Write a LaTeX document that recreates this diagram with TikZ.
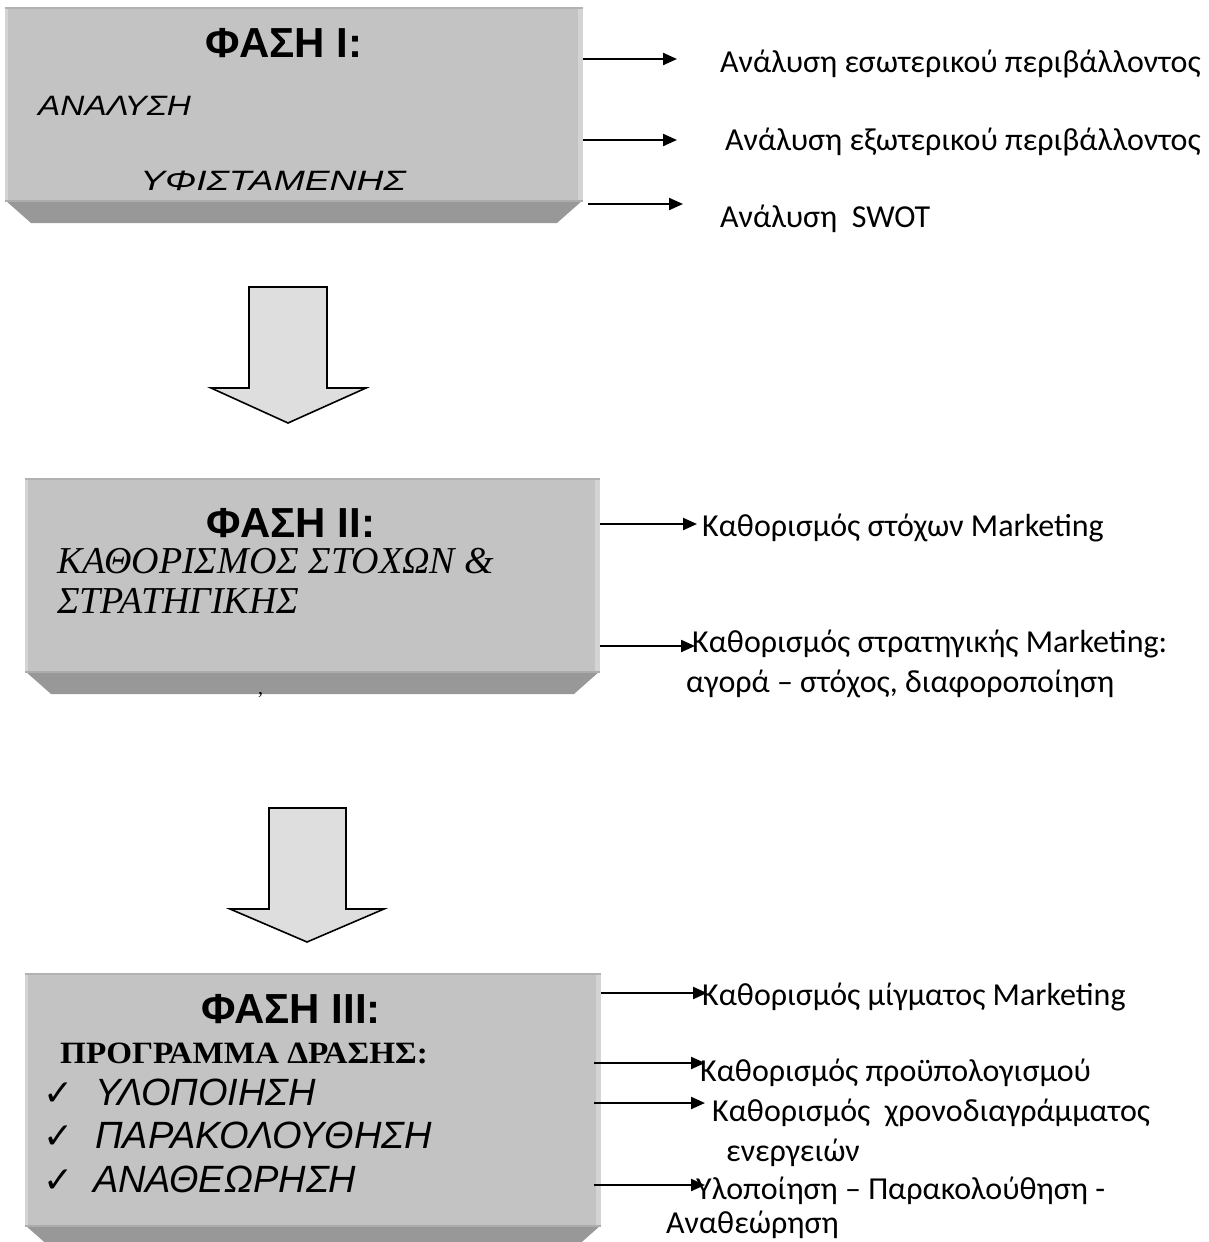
\documentclass[tikz,border=0pt]{standalone}
\usepackage{fontspec}
\setmainfont{Liberation Serif}
\newfontfamily\arialf{Liberation Sans}
\newfontfamily\calf{Carlito}
\newfontfamily\dejaf{DejaVu Sans}
\usetikzlibrary{arrows.meta}
\newcommand\setfs[1]{\fontsize{#1}{#1}\selectfont}
\definecolor{facegray}{RGB}{195,195,195}
\definecolor{edgelight}{RGB}{212,212,212}
\definecolor{topline}{RGB}{178,178,178}
\definecolor{bevelgray}{RGB}{152,152,152}
\definecolor{bevelline}{RGB}{172,172,172}
\definecolor{arrowfill}{RGB}{222,222,222}
\newcommand\bevbox[5]{% name, x1, ytop, x2, ybottom of face
  \fill[facegray] (#2,#3) rectangle (#4,#5);
  \fill[edgelight] (#2,#3) rectangle ({#2+3},#5);
  \fill[edgelight] ({#4-5},#3) rectangle (#4,#5);
  \fill[topline] (#2,#3) rectangle (#4,{#3+2});
  \fill[bevelgray] (#2,#5) -- (#4,#5) -- ({#4-26},{#5+23}) -- ({#2+26},{#5+23}) -- cycle;
  \fill[bevelline] (#2,#5) rectangle (#4,{#5+2});
  \coordinate (#1) at (#2,#3);
}
\tikzset{
  side/.style={anchor=base west, inner sep=0pt, font=\calf\setfs{32}},
  title/.style={anchor=base, inner sep=0pt, font=\arialf\bfseries\setfs{42}},
  sansit/.style={anchor=base west, inner sep=0pt, font=\arialf\itshape\setfs{38}},
  chk/.style={anchor=base west, inner sep=0pt, font=\dejaf\setfs{36}},
  conn/.style={line width=2.2pt, -{Triangle[length=14pt,width=12pt]}},
  bigarrow/.style={fill=arrowfill, draw=black, line width=1.6pt, line join=miter},
}
\begin{document}
\begin{tikzpicture}[x=1pt,y=-1pt]
\useasboundingbox (0,0) rectangle (1208,1242);
\fill[white] (0,0) rectangle (1208,1242);

% ---------- Phase boxes ----------
\bevbox{box1}{5}{7}{583}{200}
\bevbox{box2}{25}{478}{600}{671}
\bevbox{box3}{25}{973}{601}{1225}

% ---------- Box 1 texts ----------
\node[title] (p1) at (284,57) {ΦΑΣΗ I:};
\node[anchor=base west, inner sep=0pt, font=\arialf\itshape\setfs{28}, xscale=1.19] (p1a) at (38,115) {ΑΝΑΛΥΣΗ};
\node[anchor=base west, inner sep=0pt, font=\arialf\itshape\setfs{28}, xscale=1.33] (p1b) at (140,190) {ΥΦΙΣΤΑΜΕΝΗΣ};

% ---------- Box 2 texts ----------
\node[title] (p2) at (291,537) {ΦΑΣΗ II:};
\node[anchor=base west, inner sep=0pt, font=\itshape\setfs{38}] (p2a) at (57,573) {ΚΑΘΟΡΙΣΜΟΣ ΣΤΟΧΩΝ \&};
\node[anchor=base west, inner sep=0pt, font=\itshape\setfs{38}] (p2b) at (57,613) {ΣΤΡΑΤΗΓΙΚΗΣ};
\node[anchor=base west, inner sep=0pt, font=\setfs{20}] (cm) at (258,694) {,};

% ---------- Box 3 texts ----------
\node[title] (p3) at (291,1023) {ΦΑΣΗ III:};
\node[anchor=base west, inner sep=0pt, font=\bfseries\setfs{31}, xscale=1.07] (p3a) at (60,1063) {ΠΡΟΓΡΑΜΜΑ ΔΡΑΣΗΣ:};
\node[chk] (ck1) at (43,1105) {✓};
\node[chk] (ck2) at (43,1148) {✓};
\node[chk] (ck3) at (43,1192) {✓};
\node[sansit] (i1) at (95,1105) {ΥΛΟΠΟΙΗΣΗ};
\node[sansit] (i2) at (95,1148) {ΠΑΡΑΚΟΛΟΥΘΗΣΗ};
\node[sansit] (i3) at (93,1192) {ΑΝΑΘΕΩΡΗΣΗ};

% ---------- Down arrows ----------
\draw[bigarrow] (249,287) -- (327,287) -- (327,388) -- (366,388) -- (288,423) -- (211,388) -- (249,388) -- cycle;
\coordinate (d1) at (288,423);
\draw[bigarrow] (269,808) -- (346,808) -- (346,909) -- (384,909) -- (307,942) -- (230,909) -- (269,909) -- cycle;
\coordinate (d2) at (307,942);

% ---------- Right-hand texts ----------
\node[side] (t1) at (720,72) {Ανάλυση εσωτερικού περιβάλλοντος};
\node[side] (t2) at (725,150) {Ανάλυση εξωτερικού περιβάλλοντος};
\node[side] (t3) at (720,227) {Ανάλυση\ \ SWOT};

\node[side] (u1) at (702,536) {Καθορισμός στόχων Marketing};
\node[side] (u2) at (692,652) {Καθορισμός στρατηγικής Marketing:};
\node[side] (u3) at (686,692) {αγορά – στόχος, διαφοροποίηση};

\node[side] (v1) at (702,1005) {Καθορισμός μίγματος Marketing};
\node[side] (v2) at (700,1081) {Καθορισμός προϋπολογισμού};
\node[side] (v3) at (712,1121) {Καθορισμός\ \ χρονοδιαγράμματος};
\node[side] (v4) at (726,1161) {ενεργειών};
\node[side] (v5) at (696,1199) {Υλοποίηση – Παρακολούθηση -};
\node[side] (v6) at (666,1233) {Αναθεώρηση};

% ---------- Connectors ----------
\coordinate (a1s) at (583,59);   \coordinate (a1e) at (677,59);
\coordinate (a2s) at (583,140);  \coordinate (a2e) at (677,140);
\coordinate (a3s) at (588,204);  \coordinate (a3e) at (683,204);
\coordinate (b1s) at (600,524);  \coordinate (b1e) at (697,524);
\coordinate (b2s) at (600,646);  \coordinate (b2e) at (695,646);
\coordinate (c1s) at (601,993);  \coordinate (c1e) at (707,993);
\coordinate (c2s) at (594,1063); \coordinate (c2e) at (705,1063);
\coordinate (c3s) at (594,1103); \coordinate (c3e) at (705,1103);
\coordinate (c4s) at (594,1185); \coordinate (c4e) at (705,1185);
\draw[conn] (a1s) -- (a1e);
\draw[conn] (a2s) -- (a2e);
\draw[conn] (a3s) -- (a3e);
\draw[conn] (b1s) -- (b1e);
\draw[conn] (b2s) -- (b2e);
\draw[conn] (c1s) -- (c1e);
\draw[conn] (c2s) -- (c2e);
\draw[conn] (c3s) -- (c3e);
\draw[conn] (c4s) -- (c4e);
\end{tikzpicture}
\end{document}
